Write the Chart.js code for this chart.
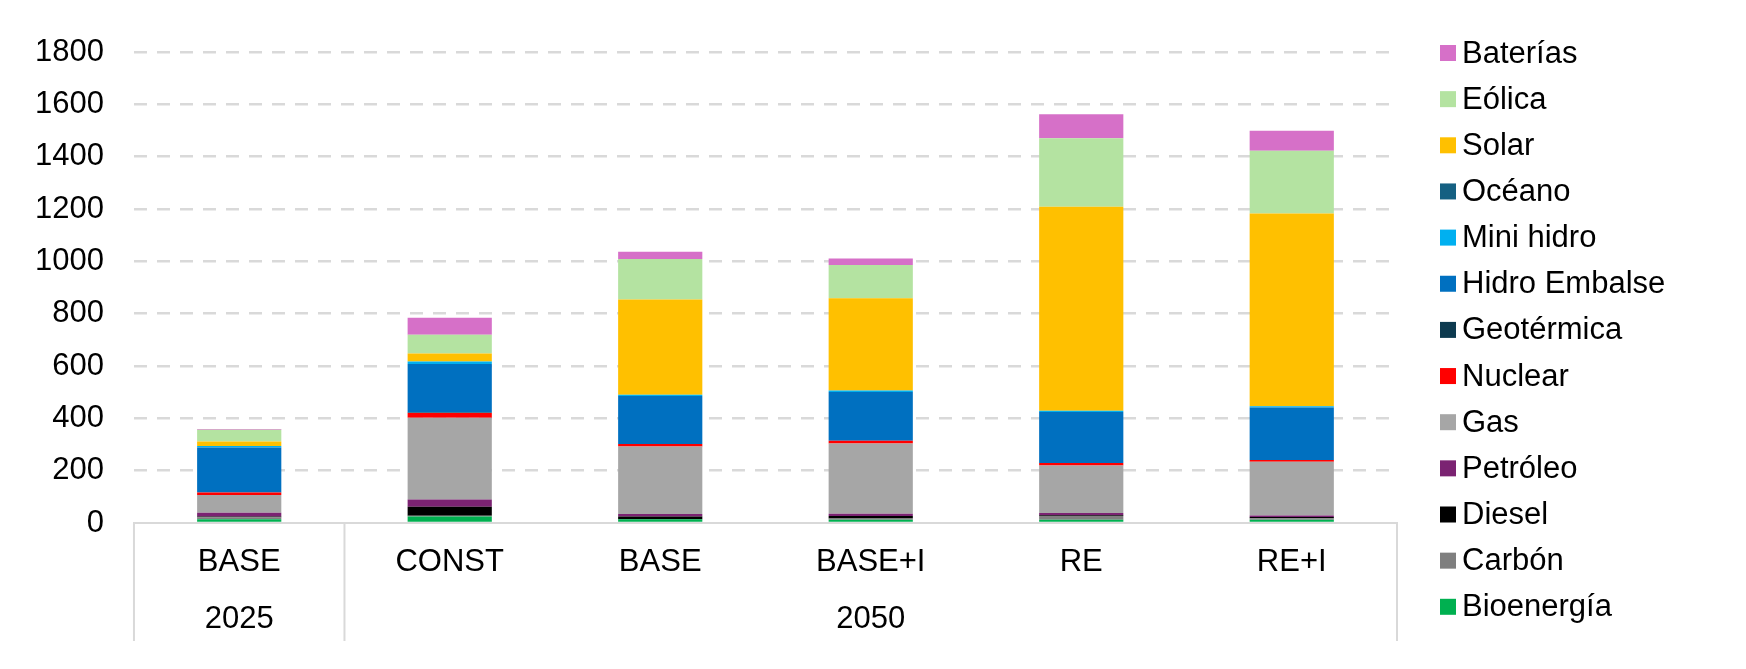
<!DOCTYPE html>
<html>
<head>
<meta charset="utf-8">
<script src="https://cdn.jsdelivr.net/npm/chart.js@4"></script>
<style>
  html, body { margin: 0; padding: 0; background: #fff; }
  #wrap { width: 1746px; height: 669px; }
</style>
</head>
<body>
<div id="wrap"><canvas id="capacityChart"></canvas></div>
<script>
// Categories and groups (bottom of the x axis)
const categories = ['BASE', 'CONST', 'BASE', 'BASE+I', 'RE', 'RE+I'];
const groupLabels = ['2025', '2050'];
const groupSizes = [1, 5];

// Y axis ticks
const yTicks = [0, 200, 400, 600, 800, 1000, 1200, 1400, 1600, 1800];

// Series values (stacked, bottom to top)
const bioenergia   = [14, 25, 14, 12, 12, 12];
const carbon       = [8, 3, 0, 5, 15, 6];
const diesel       = [3, 34, 11, 10, 3, 5];
const petroleo     = [14, 28, 9, 8, 8, 6];
const gas          = [68, 312, 258, 269, 182, 205];
const nuclear      = [10, 18, 10, 10, 9, 7];
const geotermica   = [0, 2, 0, 0, 0, 0];
const hidroEmbalse = [172, 186, 183, 187, 195, 200];
const miniHidro    = [5, 9, 5, 5, 5, 5];
const oceano       = [0, 0, 0, 0, 0, 0];
const solar        = [17, 31, 364, 353, 780, 737];
const eolica       = [45, 71, 155, 127, 261, 240];
const baterias     = [3, 65, 28, 25, 92, 76];

const seriesNames = ['Bioenergía', 'Carbón', 'Diesel', 'Petróleo', 'Gas', 'Nuclear',
    'Geotérmica', 'Hidro Embalse', 'Mini hidro', 'Océano', 'Solar', 'Eólica', 'Baterías'];
const seriesData = [bioenergia, carbon, diesel, petroleo, gas, nuclear,
    geotermica, hidroEmbalse, miniHidro, oceano, solar, eolica, baterias];
const seriesColors = ['#00b050', '#7f7f7f', '#000000', '#7b2372', '#a6a6a6', '#ff0000',
    '#0d3a4f', '#0070c0', '#00b0f0', '#156082', '#ffc000', '#b4e3a1', '#d670c8'];

const FONT = '"Liberation Sans", Arial, Helvetica, sans-serif';
const FONT_SIZE = 31;
const LINE = '#d9d9d9';

// draws the box lines and the year row under the category labels
const groupAxis = {
    id: 'groupAxis',
    afterDraw(chart) {
        const c = chart.ctx;
        const x = chart.scales.x;
        const area = chart.chartArea;
        const bottom = area.bottom + 118;
        const step = (area.right - area.left) / categories.length;

        c.save();
        c.strokeStyle = LINE;
        c.lineWidth = 2;
        let idx = 0;
        const edges = [area.left];
        groupSizes.forEach(n => {
            idx += n;
            edges.push(area.left + step * idx);
        });
        edges.forEach(px => {
            c.beginPath();
            c.moveTo(px, area.bottom);
            c.lineTo(px, bottom);
            c.stroke();
        });

        c.fillStyle = '#000';
        c.font = FONT_SIZE + 'px ' + FONT;
        c.textAlign = 'center';
        c.textBaseline = 'middle';
        let start = 0;
        groupLabels.forEach((label, i) => {
            const first = x.getPixelForValue(start);
            const last = x.getPixelForValue(start + groupSizes[i] - 1);
            c.fillText(label, (first + last) / 2, area.bottom + 96);
            start += groupSizes[i];
        });
        c.restore();
    }
};

// legend drawn as one column on the right, top item = last dataset
const sideLegend = {
    id: 'sideLegend',
    afterDraw(chart) {
        const c = chart.ctx;
        const items = chart.data.datasets.slice().reverse();
        c.save();
        c.font = FONT_SIZE + 'px ' + FONT;
        c.textBaseline = 'middle';
        c.textAlign = 'left';
        items.forEach((ds, i) => {
            const y = 53 + i * 46.15;
            c.fillStyle = ds.backgroundColor;
            c.fillRect(1440, y - 8, 16, 16);
            c.fillStyle = '#000';
            c.fillText(ds.label, 1462, y + 1);
        });
        c.restore();
    }
};

const ctx = document.getElementById('capacityChart').getContext('2d');
new Chart(ctx, {
    type: 'bar',
    data: {
        labels: categories,
        datasets: seriesNames.map((name, i) => ({
            label: name,
            data: seriesData[i],
            backgroundColor: seriesColors[i],
            borderWidth: 0,
            barPercentage: 0.4,
            categoryPercentage: 1
        }))
    },
    options: {
        responsive: true,
        maintainAspectRatio: false,
        animation: false,
        layout: {
            padding: { left: 5, top: 52, right: 349, bottom: 86 }
        },
        plugins: {
            tooltip: { enabled: false },
            legend: { display: false }
        },
        scales: {
            x: {
                stacked: true,
                grid: { display: false, drawTicks: false },
                border: { display: true, color: LINE, width: 2 },
                ticks: {
                    color: '#000',
                    font: { family: FONT, size: FONT_SIZE },
                    padding: 21,
                    maxRotation: 0
                },
                afterFit: axis => { axis.height = 60; }
            },
            y: {
                stacked: true,
                min: 0,
                max: 1800,
                afterBuildTicks: axis => { axis.ticks = yTicks.map(v => ({ value: v })); },
                grid: {
                    color: ctx => ctx.tick && ctx.tick.value === 0 ? 'rgba(0,0,0,0)' : LINE,
                    lineWidth: 2.5,
                    drawTicks: false
                },
                border: { display: false, dash: [13, 10] },
                ticks: {
                    color: '#000',
                    font: { family: FONT, size: FONT_SIZE },
                    padding: 30,
                    callback: v => String(v)
                }
            }
        }
    },
    plugins: [groupAxis, sideLegend]
});
</script>
</body>
</html>
